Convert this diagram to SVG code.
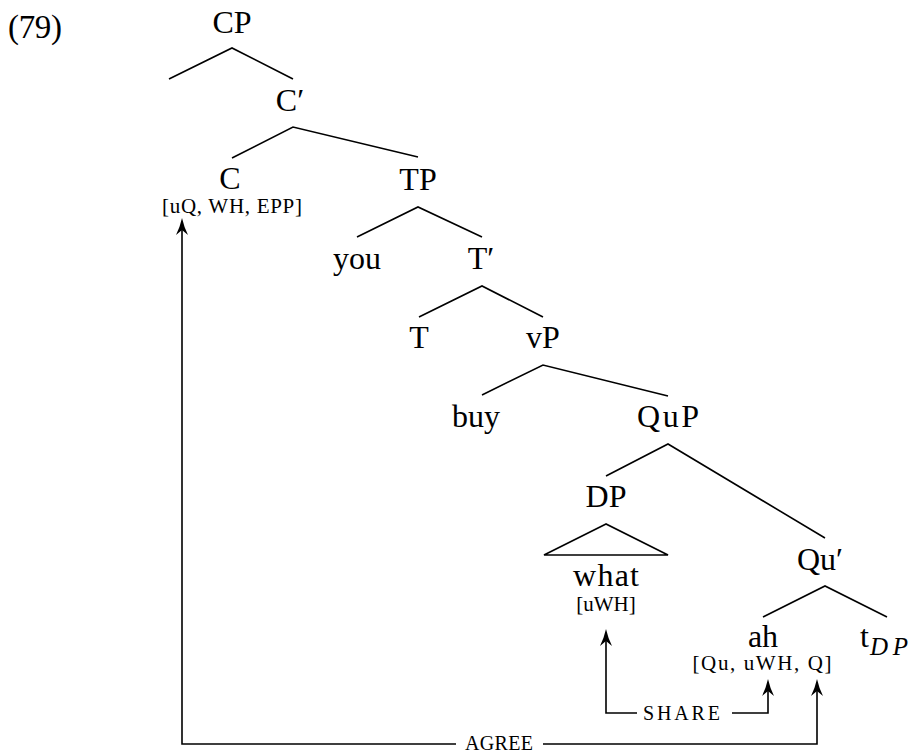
<svg xmlns="http://www.w3.org/2000/svg" width="910" height="753" viewBox="0 0 910 753">
<style>
  .lbl { font-family: "Liberation Serif", "DejaVu Serif", serif; font-size: 32px; fill: #000; text-anchor: middle; }
  .feat { font-family: "Liberation Serif", "DejaVu Serif", serif; font-size: 21px; fill: #000; text-anchor: middle; }
  .sc { font-family: "Liberation Serif", "DejaVu Serif", serif; font-size: 20px; fill: #000; text-anchor: start; }
  .edge { fill: none; stroke: #000; stroke-width: 1.6; stroke-linejoin: miter; }
  .conn { fill: none; stroke: #000; stroke-width: 1.6; }
</style>
<defs>
  <marker id="arr" viewBox="0 -7 18 14" refX="5" refY="0" markerWidth="18" markerHeight="14" markerUnits="userSpaceOnUse" orient="auto">
    <path d="M0,-6 Q8,-2 17,0 Q8,2 0,6 L5,0 Z" fill="#000"/>
  </marker>
</defs>
<rect width="910" height="753" fill="#fff"/>
<text class="lbl" x="8" y="38" style="text-anchor:start;font-size:33px" textLength="54">(79)</text>

<g id="CP"><text class="lbl" x="232" y="33">CP</text></g>
<g id="Cbar"><text class="lbl" x="290" y="111">C′</text></g>
<g id="C"><text class="lbl" x="230" y="189">C</text><text class="feat" x="232" y="213" textLength="140">[uQ, WH, EPP]</text></g>
<g id="TP"><text class="lbl" x="418" y="190">TP</text></g>
<g id="you"><text class="lbl" x="357" y="269">you</text></g>
<g id="Tbar"><text class="lbl" x="481" y="269">T′</text></g>
<g id="T"><text class="lbl" x="419" y="348">T</text></g>
<g id="vP"><text class="lbl" x="543" y="348">vP</text></g>
<g id="buy"><text class="lbl" x="476" y="427">buy</text></g>
<g id="QuP"><text class="lbl" x="668" y="427" textLength="62">QuP</text></g>
<g id="DP"><text class="lbl" x="606" y="507">DP</text></g>
<g id="what"><path class="edge" d="M606,524 L544,555 L668,555 Z"/><text class="lbl" x="606" y="586" textLength="66">what</text><text class="feat" x="606" y="611">[uWH]</text></g>
<g id="Qubar"><text class="lbl" x="820" y="570">Qu′</text></g>
<g id="ah"><text class="lbl" x="763" y="647">ah</text><text class="feat" x="762" y="670" textLength="139">[Qu, uWH, Q]</text></g>
<g id="tDP"><text class="lbl" x="860" y="647" style="text-anchor:start">t</text><text class="lbl" x="870" y="655" style="text-anchor:start;font-style:italic;font-size:25px" textLength="38">DP</text></g>

<g id="edges">
  <path class="edge" d="M169,79 L232,48 L293,79"/>
  <path class="edge" d="M232,158 L293,127 L418,157"/>
  <path class="edge" d="M357,237 L418,207 L482,237"/>
  <path class="edge" d="M419,317 L482,286 L543,317"/>
  <path class="edge" d="M482,395 L543,365 L668,396"/>
  <path class="edge" d="M606,476 L668,444 L825,538"/>
  <path class="edge" d="M763,617 L825,586 L887,617"/>
</g>

<g id="connectors">
  <path class="conn" d="M456,744 H182 V230" marker-end="url(#arr)"/>
  <path class="conn" d="M543,744 H817 V691" marker-end="url(#arr)"/>
  <path class="conn" d="M637,713 H606 V641" marker-end="url(#arr)"/>
  <path class="conn" d="M732,713 H768 V691" marker-end="url(#arr)"/>
  <text class="sc" x="465" y="750" textLength="68">AGREE</text>
  <text class="sc" x="643" y="720" textLength="77">SHARE</text>
</g>
</svg>
